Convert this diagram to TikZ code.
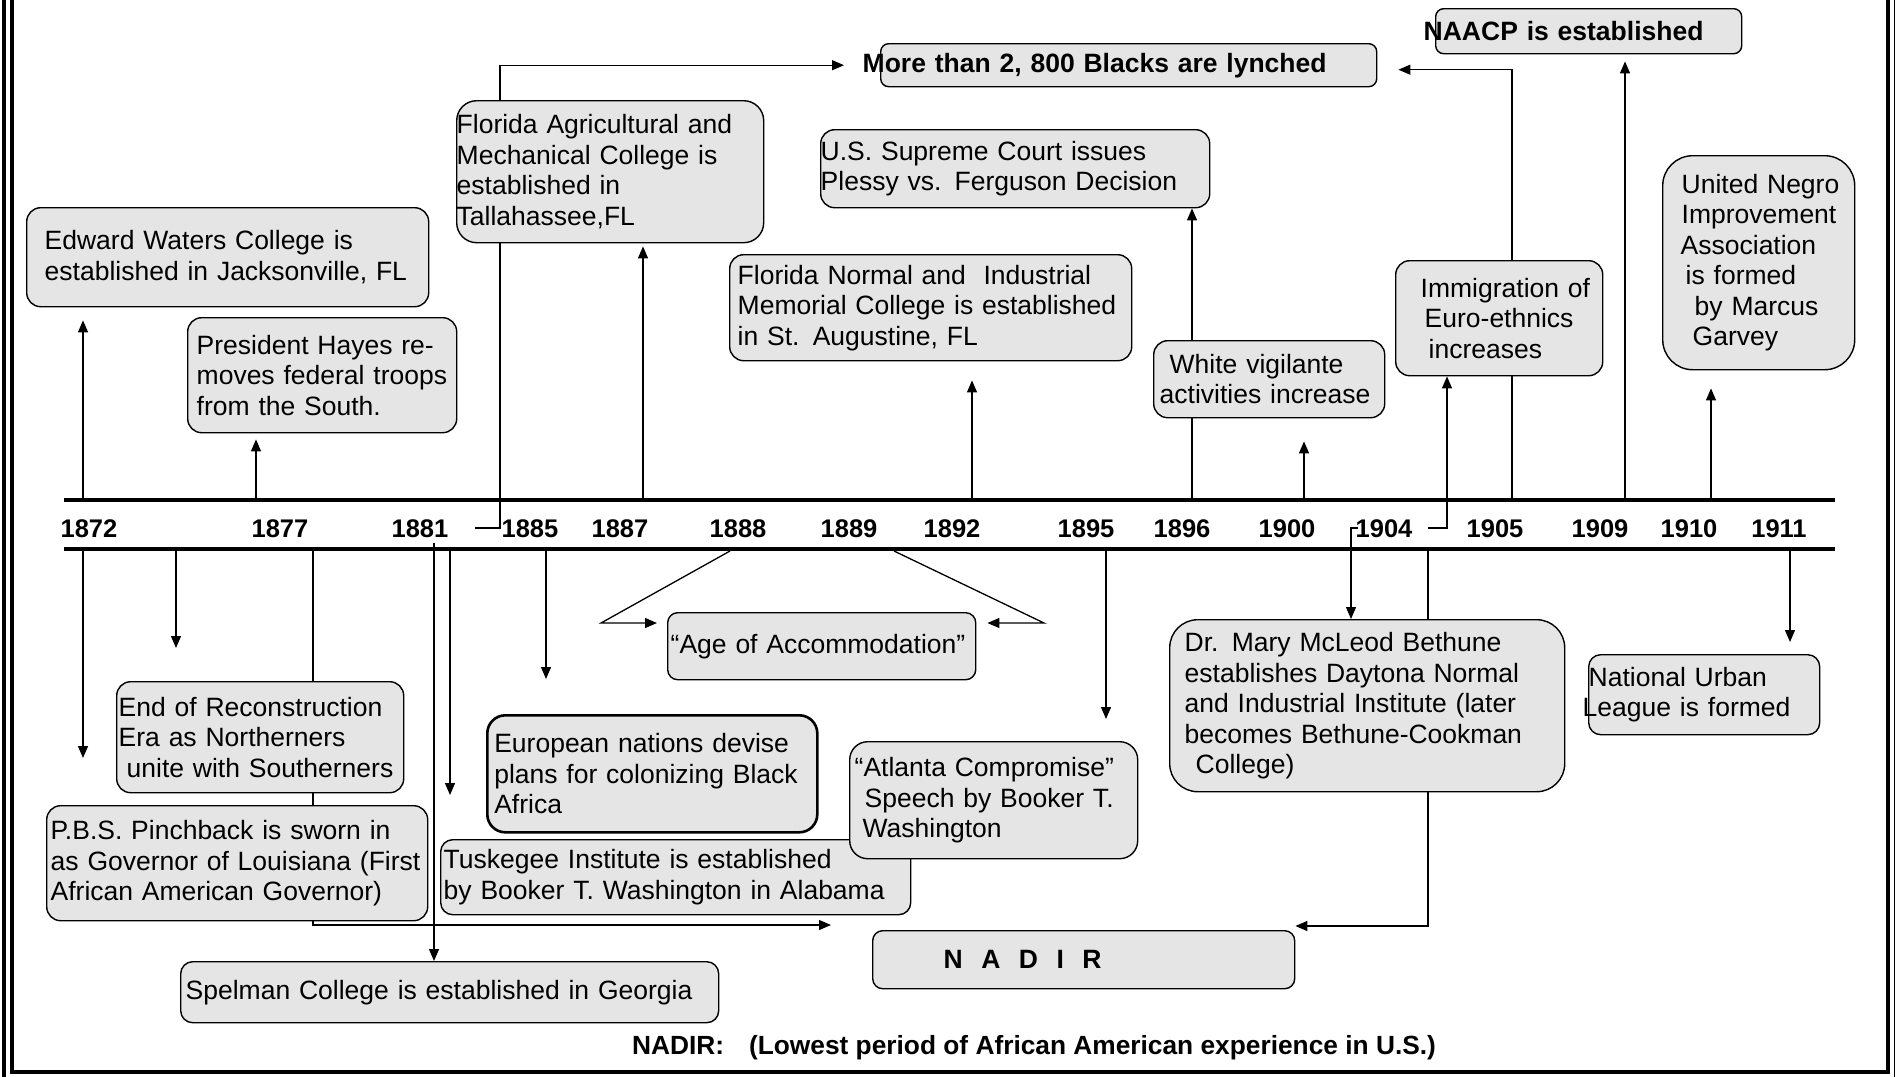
\documentclass[tikz,border=0pt]{standalone}
\usepackage{fontspec}
\setmainfont{Liberation Sans}
\usepackage{xcolor}
\usepackage{tikz}
\usetikzlibrary{arrows.meta}
\definecolor{boxgray}{RGB}{229,229,229}
\pgfdeclarelayer{background}
\pgfsetlayers{background,main}
\newcommand{\evfont}{\fontsize{26.5}{30.5}\selectfont}
\newcommand{\yrfont}{\fontsize{25.5}{29}\selectfont\bfseries}

\begin{document}
\begin{tikzpicture}[
    x=1pt, y=-1pt,
    evbox/.style={
        rectangle,
        rounded corners=14pt,
        draw=black,
        line width=1.4pt,
        fill=boxgray,
        anchor=north west,
        inner sep=0pt,
        align=left,
        font=\evfont
    },
    boldbox/.style={evbox, font=\evfont\bfseries},
    yearlbl/.style={anchor=base, inner sep=0pt, font=\yrfont},
    arrow/.style={-{Triangle[length=12pt, width=10pt]}, line width=1.3pt},
    link/.style={line width=1.3pt},
    timeline/.style={line width=4.3pt},
    frame/.style={line width=4pt}
]
\useasboundingbox (0,0) rectangle (1895,1076);
\clip (0,0) rectangle (1895,1076);

% the two rails of the time line
\draw[timeline] (64,499.7) -- (1835,499.7);
\draw[timeline] (64,548.8) -- (1835,548.8);

\node[yearlbl] (y1872) at (89,537) {1872};
\node[yearlbl] (y1877) at (280,537) {1877};
\node[yearlbl] (y1881) at (420,537) {1881};
\node[yearlbl] (y1885) at (530,537) {1885};
\node[yearlbl] (y1887) at (620,537) {1887};
\node[yearlbl] (y1888) at (738,537) {1888};
\node[yearlbl] (y1889) at (849,537) {1889};
\node[yearlbl] (y1892) at (952,537) {1892};
\node[yearlbl] (y1895) at (1086,537) {1895};
\node[yearlbl] (y1896) at (1182,537) {1896};
\node[yearlbl] (y1900) at (1287,537) {1900};
\node[yearlbl] (y1904) at (1384,537) {1904};
\node[yearlbl] (y1905) at (1495,537) {1905};
\node[yearlbl] (y1909) at (1600,537) {1909};
\node[yearlbl] (y1910) at (1689,537) {1910};
\node[yearlbl] (y1911) at (1779,537) {1911};

% events above the line
\node[evbox, minimum width=402pt, minimum height=99pt, text width=366pt] (waters) at (26,207) {Edward Waters College is\\established in Jacksonville, FL};
\node[evbox, minimum width=269pt, minimum height=115pt, text width=251pt] (hayes) at (187,317) {President Hayes re-\\moves federal troops\\from the South.};
\node[evbox, rounded corners=20pt, minimum width=307pt, minimum height=142pt, text width=307pt] (famu) at (456,100) {Florida Agricultural and\\Mechanical College is\\established in\\Tallahassee,FL};
\node[boldbox, rounded corners=8pt, minimum width=496pt, minimum height=43pt, text width=496pt] (lynched) at (880,43) {\hspace*{-18pt}More than 2, 800 Blacks are lynched};
\node[evbox, minimum width=389pt, minimum height=78pt, text width=389pt] (plessy) at (820,129) {U.S. Supreme Court issues\\Plessy vs. Ferguson Decision};
\node[evbox, minimum width=402pt, minimum height=106pt, text width=386pt] (fnormal) at (729,254) {Florida Normal and\ \ Industrial\\Memorial College is established\\in St. Augustine, FL};
\node[evbox, minimum width=231pt, minimum height=77pt, text width=219pt] (vigil) at (1153,340) {\hspace*{10pt}White vigilante\\activities increase};
\node[evbox, minimum width=207pt, minimum height=115pt, text width=185pt] (immig) at (1395,260) {\hspace*{14pt}Immigration of\\\hspace*{18pt}Euro-ethnics\\\hspace*{22pt}increases};
\node[boldbox, rounded corners=8pt, minimum width=306pt, minimum height=45pt, text width=306pt] (naacp) at (1435,8) {\hspace*{-12pt}NAACP is established};
\node[evbox, rounded corners=30pt, minimum width=192pt, minimum height=214pt, text width=172pt] (unia) at (1662,155) {\hspace*{9pt}United Negro\\\hspace*{9pt}Improvement\\\hspace*{8pt}Association\\\hspace*{13pt}is formed\\\hspace*{22pt}by Marcus\\\hspace*{20pt}Garvey};

% events below the line
\node[evbox, minimum width=287pt, minimum height=111pt, text width=283pt] (endrec) at (116,681) {End of Reconstruction\\Era as Northerners\\\hspace*{8pt}unite with Southerners};
\node[evbox, minimum width=381pt, minimum height=115pt, text width=373pt] (pinch) at (46,805) {P.B.S. Pinchback is sworn in\\as Governor of Louisiana (First\\African American Governor)};
\node[evbox, line width=2.6pt, rounded corners=18pt, minimum width=330pt, minimum height=117pt, text width=316pt] (europe) at (486,714) {European nations devise\\plans for colonizing Black\\Africa};
\node[evbox, rounded corners=12pt, minimum width=470pt, minimum height=75pt, text width=464pt] (tuskegee) at (440,839) {Tuskegee Institute is established\\by Booker T. Washington in Alabama};
\node[evbox, rounded corners=12pt, minimum width=538pt, minimum height=61pt, text width=528pt] (spelman) at (180,961) {Spelman College is established in Georgia};
\node[evbox, rounded corners=10pt, minimum width=308pt, minimum height=67pt, text width=302pt] (age) at (667,612) {“Age of Accommodation”};
\node[evbox, rounded corners=18pt, minimum width=288pt, minimum height=117pt, text width=278pt] (atlanta) at (849,741) {“Atlanta Compromise”\\\hspace*{10pt}Speech by Booker T.\\\hspace*{8pt}Washington};
\node[boldbox, rounded corners=10pt, minimum width=422pt, minimum height=58pt, text width=280pt] (nadir) at (872,930) {N\hspace{18.5pt}A\hspace{18.5pt}D\hspace{18.5pt}I\hspace{18.5pt}R};
\node[evbox, rounded corners=28pt, minimum width=395pt, minimum height=172pt, text width=365pt] (bethune) at (1169,619) {Dr. Mary McLeod Bethune\\establishes Daytona Normal\\and Industrial Institute (later\\becomes Bethune-Cookman\\\hspace*{11pt}College)};
\node[evbox, rounded corners=12pt, minimum width=231pt, minimum height=80pt, text width=231pt] (nul) at (1588,654) {National Urban\\\hspace*{-6pt}League is formed};

\node[inner sep=0pt, font=\fontsize{26.3}{30}\selectfont\bfseries] (caption) at (1034,1048) {NADIR:\hspace{25pt}(Lowest period of African American experience in U.S.)};

% free ends on the rails
\coordinate (a1872) at (83,500);
\coordinate (a1877) at (256,500);
\coordinate (a1887) at (643,500);
\coordinate (a1892) at (972,500);
\coordinate (a1896) at (1192,500);
\coordinate (a1900) at (1304,500);
\coordinate (a1905) at (1512,500);
\coordinate (a1909) at (1625,500);
\coordinate (a1910) at (1711,500);
\coordinate (b1872) at (83,549);
\coordinate (bmid) at (176,549);
\coordinate (b1877) at (313,549);
\coordinate (b1881) at (434,543);
\coordinate (b1881t) at (450,549);
\coordinate (b1885) at (546,549);
\coordinate (b1888) at (730,551);
\coordinate (b1889) at (894,551);
\coordinate (b1895) at (1106,549);
\coordinate (b1904) at (1428,549);
\coordinate (b1911) at (1790,549);
\coordinate (k1881) at (475,528);
\coordinate (k1881b) at (500,528);
\coordinate (k1904) at (1358,528);
\coordinate (k1904d) at (1351,528);
\coordinate (k1904r) at (1428,528);
\coordinate (k1904c) at (1447,528);
\coordinate (agel) at (601,623);
\coordinate (ager) at (1044,623);
\coordinate (nadl) at (831,925);

\begin{pgfonlayer}{background}
\fill[white] (0,0) rectangle (1895,1076);
\draw[arrow, shorten >=13pt] (a1872) -- (a1872 |- waters.south);
\draw[arrow, shorten >=6pt] (a1877) -- (a1877 |- hayes.south);
\draw[arrow, shorten >=36pt] (k1881) -- (k1881b) |- (lynched.west);
\draw[arrow, shorten >=3pt] (a1887) -- (a1887 |- famu.south);
\draw[arrow, shorten >=19pt] (a1892) -- (a1892 |- fnormal.south);
\draw[arrow] (a1896) -- (a1896 |- plessy.south);
\draw[arrow, shorten >=23pt] (a1900) -- (a1900 |- vigil.south);
\draw[arrow] (k1904r) -- (k1904c) -- (k1904c |- immig.south);
\draw[arrow, shorten >=21pt] (a1905) |- ([yshift=-4.5pt]lynched.east);
\draw[arrow, shorten >=7pt] (a1909) -- (a1909 |- naacp.south);
\draw[arrow, shorten >=18pt] (a1910) -- (a1910 |- unia.south);

\draw[arrow, shorten >=47pt] (b1872) -- (b1872 |- pinch.north);
\draw[arrow, shorten >=33pt] (bmid) -- (bmid |- endrec.north);
\draw[arrow] (b1877) |- (nadl);
\draw[arrow] (b1881) -- (b1881 |- spelman.north);
\draw[arrow, shorten >=44pt] (b1881t) -- (b1881t |- tuskegee.north);
\draw[arrow, shorten >=35pt] (b1885) -- (b1885 |- europe.north);
\draw[arrow, shorten >=10pt] (b1888) -- (agel) -- (agel -| age.west);
\draw[arrow, shorten >=11pt] (b1889) -- (ager) -- (ager -| age.east);
\draw[arrow, shorten >=22pt] (b1895) -- (b1895 |- atlanta.north);
\draw[arrow] (k1904) -- (k1904d) -- (k1904d |- bethune.north);
\draw[arrow] (b1904) |- ([yshift=4pt]nadir.north east);
\draw[arrow, shorten >=12pt] (b1911) -- (b1911 |- nul.north);
\end{pgfonlayer}

% double frame, open at the top
\draw[frame] (12,-20) -- (12,1072) -- (1888,1072) -- (1888,-20);
\draw[frame] (3.7,-20) -- (3.7,1080) -- (1896,1080) -- (1896,-20);

\end{tikzpicture}
\end{document}
